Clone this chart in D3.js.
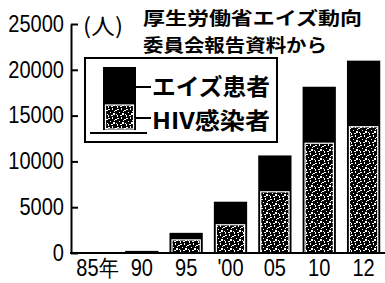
<!DOCTYPE html>
<meta charset="utf-8">
<style>
    body { margin: 0; background: white; }
    .num { font-family: "Liberation Sans", Arial, sans-serif; font-size: 23px; fill: #000; }
    .jp { font-family: "Noto Sans CJK JP", sans-serif; font-weight: 700; fill: #000; }
</style>
<body>
<svg id="chart" width="385" height="283"></svg>
<script src="https://d3js.org/d3.v7.min.js"></script>
<script>
    // years on the x axis
    const years = ["85", "90", "95", "00", "05", "10", "12"];
    const yearLabels = ["85年", "90", "95", "'00", "05", "10", "12"];
    // cumulative counts (people)
    const hivValues = [0, 150, 1650, 3300, 6900, 12200, 14000];
    const aidsValues = [0, 80, 550, 2300, 3750, 5950, 7000];
    const yTicks = [0, 5000, 10000, 15000, 20000, 25000];

    const svg = d3.select("#chart");

    // speckle pattern for the HIV part
    const defs = svg.append("defs");
    const pat = defs.append("pattern")
        .attr("id", "speck")
        .attr("patternUnits", "userSpaceOnUse")
        .attr("width", 9).attr("height", 9);
    pat.append("rect").attr("width", 9).attr("height", 9).attr("fill", "#000");
    const specks = [[0, 1, 2, 1], [4, 0, 1, 2], [7, 2, 2, 1], [2, 4, 1, 1], [5, 5, 2, 2],
                    [0, 7, 1, 2], [8, 6, 1, 1], [3, 7, 2, 1], [6, 3, 1, 1]];
    pat.selectAll("rect.s").data(specks).enter().append("rect")
        .attr("class", "s")
        .attr("x", d => d[0]).attr("y", d => d[1])
        .attr("width", d => d[2]).attr("height", d => d[3])
        .attr("fill", "#fff");

    const x = d3.scaleBand()
        .domain(years)
        .range([75, 386])
        .paddingInner(0.25)
        .paddingOuter(0.13);

    const y = d3.scaleLinear()
        .domain([0, 25000])
        .range([253, 24]);

    // bars
    const rows = years.map((yr, i) => ({ yr: yr, hiv: hivValues[i], aids: aidsValues[i] }));
    const bars = svg.append("g");
    bars.selectAll("rect.total").data(rows).enter().append("rect")
        .attr("class", "total")
        .attr("x", d => x(d.yr))
        .attr("y", d => y(d.hiv + d.aids))
        .attr("width", x.bandwidth())
        .attr("height", d => y(0) - y(d.hiv + d.aids))
        .attr("fill", "#000");
    bars.selectAll("rect.hiv").data(rows.filter(d => y(0) - y(d.hiv) > 5)).enter().append("rect")
        .attr("class", "hiv")
        .attr("x", d => x(d.yr) + 2.5)
        .attr("y", d => y(d.hiv) + 2)
        .attr("width", x.bandwidth() - 5)
        .attr("height", d => y(0) - y(d.hiv) - 2)
        .attr("fill", "url(#speck)")
        .attr("stroke", "#fff")
        .attr("stroke-width", 1.2);

    // axes
    const yAxis = svg.append("g")
        .attr("transform", "translate(71,0)")
        .call(d3.axisLeft(y).tickValues(yTicks).tickFormat(d3.format("d"))
            .tickSizeInner(-7).tickSizeOuter(0).tickPadding(7));
    yAxis.select(".domain").attr("stroke-width", 2);
    yAxis.selectAll(".tick line").attr("stroke-width", 2);
    yAxis.selectAll(".tick text").attr("class", "num").attr("font-size", null).attr("font-family", null);

    svg.append("line")
        .attr("x1", 70).attr("x2", 385)
        .attr("y1", y(0)).attr("y2", y(0))
        .attr("stroke", "#000").attr("stroke-width", 2);

    svg.append("g").selectAll("text").data(years).enter().append("text")
        .attr("class", "num lab")
        .attr("x", d => x(d) + x.bandwidth() / 2)
        .attr("y", 276)
        .attr("text-anchor", "middle")
        .text((d, i) => yearLabels[i]);

    // squeeze the digits a little, the print face is narrow
    svg.selectAll("text.num").each(function () {
        const len = this.getComputedTextLength();
        d3.select(this).attr("textLength", len * 0.87).attr("lengthAdjust", "spacingAndGlyphs");
    });

    // unit and source
    svg.append("text").attr("class", "jp")
        .attr("x", 83).attr("y", 34).attr("font-size", 22).style("font-weight", 400)
        .attr("textLength", 40).attr("lengthAdjust", "spacingAndGlyphs")
        .text("(人)");
    svg.append("text").attr("class", "jp")
        .attr("x", 143).attr("y", 25).attr("font-size", 18)
        .attr("textLength", 219).attr("lengthAdjust", "spacingAndGlyphs")
        .text("厚生労働省エイズ動向");
    svg.append("text").attr("class", "jp")
        .attr("x", 143).attr("y", 51.5).attr("font-size", 18)
        .attr("textLength", 184).attr("lengthAdjust", "spacingAndGlyphs")
        .text("委員会報告資料から");

    // legend
    const lg = svg.append("g");
    lg.append("rect")
        .attr("x", 85).attr("y", 58).attr("width", 192).attr("height", 84)
        .attr("fill", "#fff").attr("stroke", "#000").attr("stroke-width", 2);
    lg.append("rect")
        .attr("x", 103).attr("y", 67).attr("width", 33).attr("height", 63)
        .attr("fill", "#000");
    lg.append("rect")
        .attr("x", 105.5).attr("y", 105).attr("width", 28).attr("height", 24)
        .attr("fill", "url(#speck)").attr("stroke", "#fff").attr("stroke-width", 1.2);
    lg.append("line")
        .attr("x1", 90).attr("x2", 147).attr("y1", 133).attr("y2", 133)
        .attr("stroke", "#000").attr("stroke-width", 2);
    const legendItems = [["エイズ患者", 87, 95], ["HIV感染者", 118, 129]];
    legendItems.forEach(it => {
        lg.append("line")
            .attr("x1", 136).attr("x2", 151).attr("y1", it[1]).attr("y2", it[1])
            .attr("stroke", "#000").attr("stroke-width", 2);
        lg.append("text").attr("class", "jp")
            .attr("x", 152).attr("y", it[2]).attr("font-size", 23)
            .attr("textLength", 118).attr("lengthAdjust", "spacingAndGlyphs")
            .text(it[0]);
    });
</script>
</body>
